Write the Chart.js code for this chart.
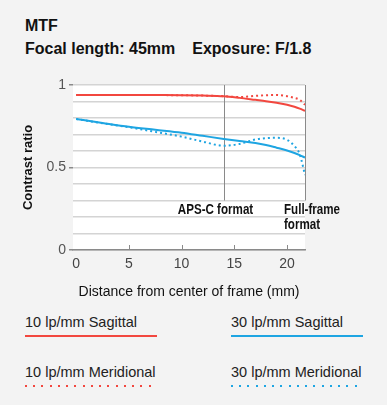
<!DOCTYPE html>
<html>
<head>
<meta charset="utf-8">
<script src="https://cdn.jsdelivr.net/npm/chart.js@4"></script>
<style>
  html, body { margin: 0; padding: 0; background: #f3f3f3; }
  body { width: 387px; height: 405px; position: relative; overflow: hidden; font-family: "Liberation Sans", Arial, sans-serif; color: #111; }
  #chart { position: absolute; left: 0; top: 0; }
  .t { position: absolute; white-space: nowrap; line-height: 16px; }
  .hd { font-weight: bold; font-size: 16px; left: 25px; }
  .lg { font-size: 14.5px; color: #222; line-height: 15px; }
  .ln { position: absolute; width: 132px; height: 2px; }
</style>
</head>
<body>
<div class="t hd" style="top:18px">MTF</div>
<div class="t hd" style="top:41px">Focal length: 45mm<span style="margin-left:17px">Exposure: F/1.8</span></div>
<canvas id="chart" width="387" height="305"></canvas>
<div id="legend"></div>
<script>
// distance from centre of frame (mm)
const X_POS = [0, 2.5, 5, 7.5, 10, 12, 14, 15.5, 17, 18, 19, 20, 20.7, 21.2, 21.7];
const MTF10_SAG = [0.940, 0.940, 0.940, 0.939, 0.938, 0.936, 0.932, 0.922, 0.910, 0.902, 0.892, 0.880, 0.868, 0.857, 0.843];
const MTF10_MER = [0.940, 0.940, 0.940, 0.939, 0.938, 0.936, 0.932, 0.927, 0.934, 0.938, 0.939, 0.932, 0.922, 0.910, 0.880];
const MTF30_SAG = [0.794, 0.770, 0.747, 0.729, 0.711, 0.692, 0.673, 0.660, 0.648, 0.636, 0.620, 0.603, 0.588, 0.575, 0.560];
const MTF30_MER = [0.794, 0.768, 0.744, 0.716, 0.687, 0.657, 0.632, 0.643, 0.670, 0.678, 0.680, 0.668, 0.630, 0.580, 0.455];
const X_TICKS = [0, 5, 10, 15, 20];
const Y_LABELS = [0, 0.5, 1];
const APSC_EDGE = 14;
const FF_EDGE = 21.7;
const MARK_BOTTOM = 0.3;

const RED = '#f2473f', BLUE = '#1ea5e2';
const SERIES = [
  { label: '10 lp/mm Sagittal', data: MTF10_SAG, color: RED, dotted: false },
  { label: '30 lp/mm Sagittal', data: MTF30_SAG, color: BLUE, dotted: false },
  { label: '10 lp/mm Meridional', data: MTF10_MER, color: RED, dotted: true },
  { label: '30 lp/mm Meridional', data: MTF30_MER, color: BLUE, dotted: true }
];

const isLabel = v => Y_LABELS.some(l => Math.abs(l - v) < 1e-6);

const frame = {
  id: 'frame',
  beforeDraw(chart) {
    const { ctx, chartArea: a } = chart;
    ctx.save();
    ctx.fillStyle = '#fff';
    ctx.fillRect(a.left, a.top, a.right - a.left, a.bottom - a.top);
    ctx.restore();
  },
  beforeDatasetsDraw(chart) {
    const { ctx, scales: { x, y } } = chart;
    ctx.save();
    ctx.strokeStyle = '#8a8a8a';
    ctx.lineWidth = 1;
    [APSC_EDGE, FF_EDGE].forEach(v => {
      const px = Math.round(x.getPixelForValue(v)) + 0.5;
      ctx.beginPath();
      ctx.moveTo(px, y.getPixelForValue(1));
      ctx.lineTo(px, y.getPixelForValue(MARK_BOTTOM));
      ctx.stroke();
    });
    // inner tick marks on the x axis
    const by = y.getPixelForValue(0);
    X_TICKS.filter(v => v > 0).forEach(v => {
      const px = Math.round(x.getPixelForValue(v)) + 0.5;
      ctx.beginPath();
      ctx.moveTo(px, by);
      ctx.lineTo(px, by - 5);
      ctx.stroke();
    });
    ctx.restore();
  },
  afterDraw(chart) {
    const { ctx, scales: { x, y } } = chart;
    // condensed bold labels: squeeze a normal bold face horizontally
    const label = (txt, px, py) => {
      ctx.save();
      ctx.translate(px, py);
      ctx.scale(0.8, 1);
      ctx.fillText(txt, 0, 0);
      ctx.restore();
    };
    ctx.save();
    ctx.fillStyle = '#111';
    ctx.font = 'bold 14.5px "Liberation Sans", sans-serif';
    ctx.textBaseline = 'alphabetic';
    const base = y.getPixelForValue(MARK_BOTTOM) + 13;
    label('APS-C format', x.getPixelForValue(APSC_EDGE) - 46, base);
    const fx = x.getPixelForValue(FF_EDGE) - 21;
    label('Full-frame', fx, base);
    label('format', fx, base + 15);
    ctx.restore();
  }
};

new Chart(document.getElementById('chart'), {
  type: 'line',
  data: {
    datasets: SERIES.map(s => ({
      label: s.label,
      data: X_POS.map((v, i) => ({ x: v, y: s.data[i] })),
      borderColor: s.color,
      borderWidth: 2,
      borderDash: s.dotted ? [2, 3] : [],
      pointRadius: 0,
      cubicInterpolationMode: 'monotone',
      fill: false
    }))
  },
  options: {
    responsive: false,
    animation: false,
    layout: { padding: { top: 85, right: 82, bottom: 0, left: 0 } },
    plugins: { legend: { display: false }, tooltip: { enabled: false } },
    scales: {
      x: {
        type: 'linear', min: -0.3, max: FF_EDGE,
        afterBuildTicks: s => { s.ticks = X_TICKS.map(v => ({ value: v })); },
        afterFit: s => { s.height = 55; },
        grid: { display: false, drawTicks: false },
        border: { display: true, color: '#8a8a8a', width: 1.5 },
        ticks: { padding: 6, color: '#444', font: { family: 'Liberation Sans', size: 14 }, maxRotation: 0, autoSkip: false },
        title: { display: true, text: 'Distance from center of frame (mm)', color: '#111',
                 font: { family: 'Liberation Sans', size: 14 }, padding: { top: 0, bottom: 4 } }
      },
      y: {
        min: 0, max: 1,
        afterFit: s => { s.width = 73; },
        ticks: {
          stepSize: 0.1, padding: 3, color: '#555', autoSkip: false,
          font: { family: 'Liberation Sans', size: 14 },
          callback: v => isLabel(v) ? String(+v.toFixed(1)) : ''
        },
        grid: {
          color: '#d4d4d4', lineWidth: 1.5, tickLength: 4,
          tickColor: c => isLabel(c.tick.value) ? '#8a8a8a' : 'rgba(0,0,0,0)'
        },
        border: { display: false },
        title: { display: true, text: 'Contrast ratio', color: '#111',
                 font: { family: 'Liberation Sans', size: 13, weight: 'bold' }, padding: { top: 21, bottom: 0 } }
      }
    }
  },
  plugins: [frame]
});

// legend below the chart
const legend = document.getElementById('legend');
SERIES.forEach((s, i) => {
  const left = i % 2 === 0 ? 25 : 231;
  const top = i < 2 ? 315 : 365;
  const t = document.createElement('div');
  t.className = 't lg';
  t.style.left = left + 'px';
  t.style.top = top + 'px';
  t.textContent = s.label;
  legend.appendChild(t);
  const l = document.createElement('div');
  l.className = 'ln';
  l.style.left = left + 'px';
  l.style.top = (top + 20) + 'px';
  l.style.background = s.dotted
    ? 'repeating-linear-gradient(to right, ' + s.color + ' 0 2px, transparent 2px 8.25px)'
    : s.color;
  legend.appendChild(l);
});
</script>
</body>
</html>
